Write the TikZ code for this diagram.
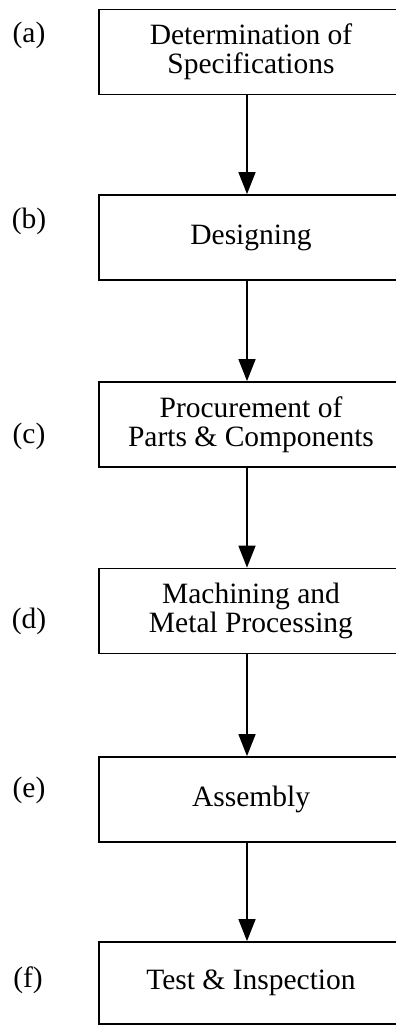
\documentclass[tikz,border=0pt]{standalone}
\usepackage{fontspec}
\setmainfont{Liberation Serif}
\usetikzlibrary{arrows.meta}
\begin{document}
\begin{tikzpicture}[x=1pt,y=-1pt,
    stagebox/.style={draw, line width=1.8pt, minimum width=304pt, minimum height=85pt,
        inner sep=0pt, align=center, font=\fontsize{29.5}{29.5}\selectfont},
    steplabel/.style={inner sep=0pt, font=\fontsize{29.5}{30}\selectfont},
    flow/.style={line width=1.5pt, -{Triangle[width=17pt,length=22pt]}}]
        \useasboundingbox (0,0) rectangle (396,1026);
        % Define the process stages
        \node[stagebox] (specs) at (251,52) {Determination of\\Specifications};
        \node[stagebox] (design) at (251,237.5) {Designing};
        \node[stagebox] (procure) at (251,424.5) {Procurement of\\Parts \& Components};
        \node[stagebox] (machining) at (251,611) {Machining and\\Metal Processing};
        \node[stagebox] (assembly) at (251,799.5) {Assembly};
        \node[stagebox, minimum height=82pt] (testing) at (251,983) {Test \& Inspection};
        % Add stage letters
        \node[steplabel] (la) at (29,35) {(a)};
        \node[steplabel] (lb) at (29,221) {(b)};
        \node[steplabel] (lc) at (29,436) {(c)};
        \node[steplabel] (ld) at (29,621) {(d)};
        \node[steplabel] (le) at (29,790) {(e)};
        \node[steplabel] (lf) at (28,980) {(f)};
        % Add arrows
        \foreach \from/\to in {specs/design, design/procure, procure/machining,
            machining/assembly, assembly/testing} {
            \draw[flow] ([xshift=-4pt]\from.south) -- ([xshift=-4pt]\to.north);
        }
        \end{tikzpicture}
\end{document}
